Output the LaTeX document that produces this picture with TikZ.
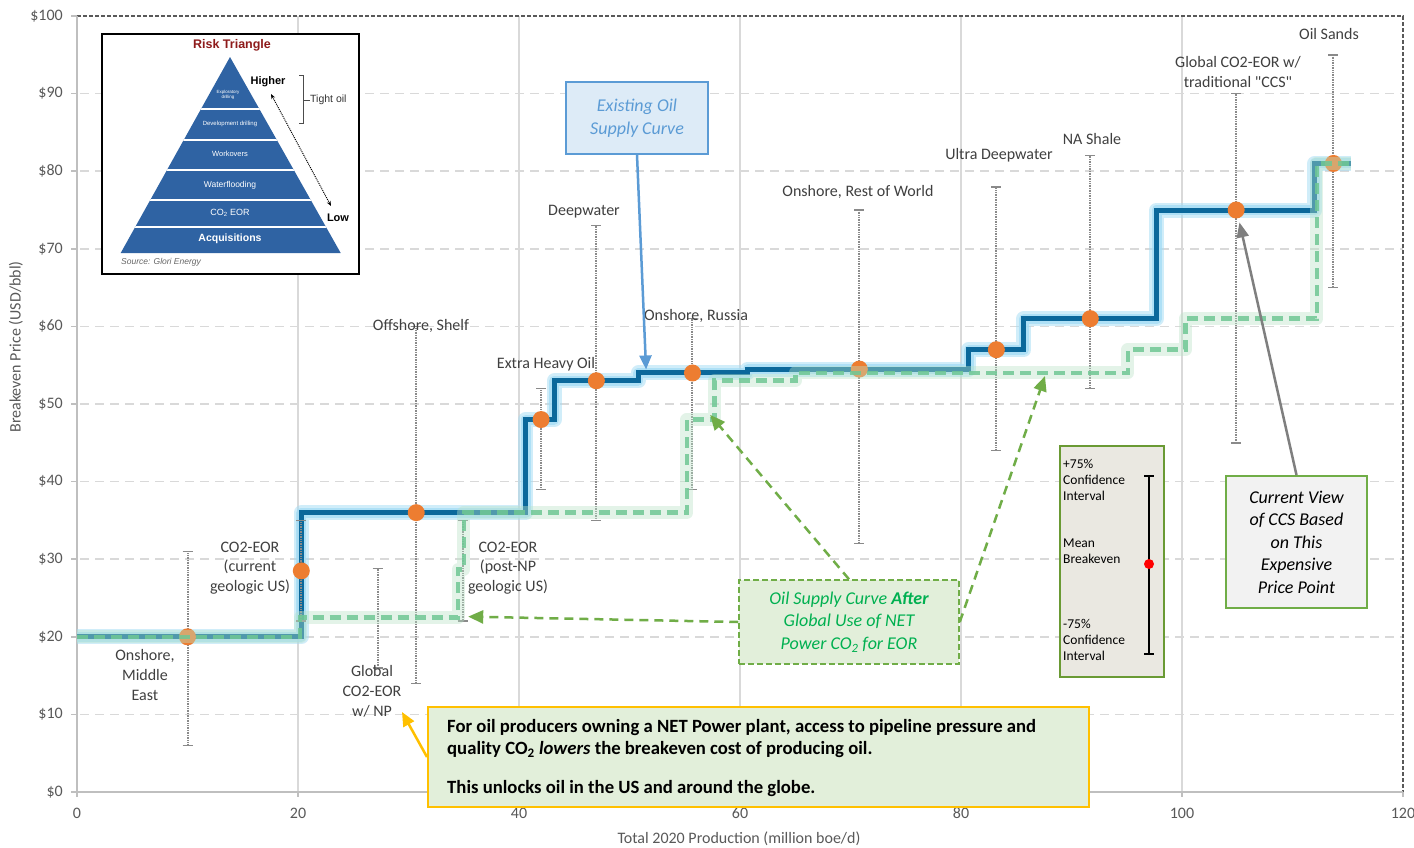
\documentclass[tikz,border=0pt]{standalone}
\usepackage{fontspec}
\setmainfont{Carlito}
\newfontfamily\plainq{Carlito}[Ligatures=TeXOff]
\newfontfamily\arialf{Liberation Sans}
\usetikzlibrary{arrows.meta}
\definecolor{txtgray}{HTML}{404040}
\definecolor{axgray}{HTML}{595959}
\definecolor{axlight}{HTML}{BFBFBF}
\definecolor{gridgray}{HTML}{D9D9D9}
\definecolor{curveblue}{HTML}{0B689B}
\definecolor{glowblue}{HTML}{A3DCF5}
\definecolor{curvegreen}{HTML}{6FC794}
\definecolor{glowgreen}{HTML}{B9E3C7}
\definecolor{dotorange}{HTML}{ED7D31}
\definecolor{boxblue}{HTML}{DDEBF7}
\definecolor{lineblue}{HTML}{5B9BD5}
\definecolor{boxgreen}{HTML}{E2EFDA}
\definecolor{boxolive}{HTML}{70AD47}
\definecolor{textgreen}{HTML}{00B050}
\definecolor{goldc}{HTML}{FFC000}
\definecolor{legbg}{HTML}{EAE8E1}
\definecolor{legborder}{HTML}{6A9A34}
\definecolor{cvbg}{HTML}{F2F2F2}
\definecolor{pyrblue}{HTML}{2F63A3}
\definecolor{darkredc}{HTML}{8E1B1B}
\definecolor{arrowgray}{HTML}{7F7F7F}
\definecolor{ebargray}{HTML}{8A8A8A}
\newcommand\fsz[2]{\fontsize{#1}{#2}\selectfont}
\begin{document}
\begin{tikzpicture}[x=1pt,y=-1pt,
  lbl/.style={text=txtgray, align=center, font=\fsz{16}{19.8}, inner sep=0pt},
  ylab/.style={text=axgray, anchor=east, font=\fsz{16}{19}, inner sep=0pt},
  xlab/.style={text=axgray, font=\fsz{16}{19}, inner sep=0pt},
  axtitle/.style={text=axgray, font=\fsz{16}{19}, inner sep=0pt},
  gridh/.style={draw=gridgray, line width=1.5pt, dash pattern=on 9pt off 6pt},
  gridv/.style={draw=gridgray, line width=1.5pt},
  axisc/.style={draw=axlight, line width=1.5pt},
  framec/.style={draw=axgray, line width=1.3pt, dash pattern=on 4pt off 2pt},
  blueglow/.style={draw=glowblue, line width=15pt, opacity=0.5, line join=round},
  blueglowin/.style={draw=glowblue, line width=10pt, opacity=0.75, line join=round},
  bluecurve/.style={draw=curveblue, line width=5pt, line join=miter},
  greenglow/.style={draw=glowgreen, line width=13pt, opacity=0.4, line join=round},
  greencurve/.style={draw=curvegreen, line width=4.5pt, dash pattern=on 11pt off 6pt, opacity=0.85},
  ebar/.style={draw=ebargray, line width=2pt, dash pattern=on 1pt off 0.7pt},
  ecap/.style={draw=ebargray, line width=1.6pt},
  existbox/.style={draw=lineblue, line width=2pt, fill=boxblue, text=lineblue, font=\itshape\fsz{18}{23}, align=center, minimum width=142pt, minimum height=72pt, inner sep=0pt},
  afterbox/.style={draw=boxolive, line width=1.5pt, dash pattern=on 6pt off 3pt, fill=boxgreen, text=textgreen, font=\itshape\fsz{18}{22.5}, align=center, minimum width=220pt, minimum height=84pt, inner sep=0pt},
  notebox/.style={draw=goldc, line width=2pt, fill=boxgreen, minimum width=661pt, minimum height=100pt, inner sep=0pt},
  notetext/.style={font=\bfseries\fsz{18.7}{22}, align=left, inner sep=0pt, text=black},
  legbox/.style={draw=legborder, line width=2.5pt, fill=legbg, minimum width=104pt, minimum height=231pt, inner sep=0pt},
  legtxt/.style={font=\fsz{13.5}{16}, align=left, inner sep=0pt, text=black, anchor=north west},
  cvbox/.style={draw=boxolive, line width=2pt, fill=cvbg, text=black, font=\itshape\fsz{18}{22.5}, align=center, minimum width=141pt, minimum height=132pt, inner sep=0pt},
  insetbox/.style={draw=black, line width=2pt, fill=white, minimum width=257pt, minimum height=240pt, inner sep=0pt},
  pyrtxt/.style={text=white, font=\arialf, inner sep=0pt, align=center},
  bluearrow/.style={draw=lineblue, line width=2.5pt, -{Triangle[length=14pt,width=12pt]}},
  greenarrow/.style={draw=boxolive, line width=2.5pt, dash pattern=on 9pt off 6pt, -{Triangle[length=15pt,width=13pt]}},
  goldarrow/.style={draw=goldc, line width=2.5pt, -{Triangle[length=14pt,width=12pt]}},
  grayarrow/.style={draw=arrowgray, line width=2.5pt, -{Triangle[length=15pt,width=12pt]}}
]
\useasboundingbox (0,0) rectangle (1414,847);
\fill[white] (0,0) rectangle (1414,847);

% grid
\foreach \k in {1,...,9} \draw[gridh] (80,{792-77.6*\k}) -- (1403,{792-77.6*\k});
\foreach \k in {1,...,5} \draw[gridv] ({77+221*\k},16) -- ({77+221*\k},792);
% frame and axes
\draw[framec] (77,16) -- (1403,16) -- (1403,792);
\draw[axisc] (77,16) -- (77,792) -- (1403,792);
\foreach \k in {0,...,10} \draw[axisc] (71,{792-77.6*\k}) -- (77,{792-77.6*\k});
\foreach \k in {0,...,6} \draw[axisc] ({77+221*\k},792) -- ({77+221*\k},797);
\foreach \k in {0,...,10}{\pgfmathtruncatemacro\val{10*\k}\node[ylab] (ylab\k) at (63,{792-77.6*\k}) {\$\val};}
\foreach \k in {0,...,6}{\pgfmathtruncatemacro\val{20*\k}\node[xlab] (xlab\k) at ({77+221*\k},813) {\val};}
\node[axtitle, rotate=90] (ytitle) at (16,347) {Breakeven Price (USD/bbl)};
\node[axtitle] (xtitle) at (739,839) {Total 2020 Production (million boe/d)};

% data
\begin{scope}[shift={(77pt,-792pt)}, x=11.05pt, y=7.76pt]
  \foreach \gs in {blueglow, blueglowin, bluecurve}
    \draw[\gs] (0,20) -- (20.3,20) -- (20.3,36) -- (40.6,36) -- (40.6,48) -- (43.2,48) -- (43.2,53) -- (50.8,53) -- (50.8,54) -- (60.7,54) -- (60.7,54.5) -- (80.7,54.5) -- (80.7,57) -- (85.7,57) -- (85.7,61) -- (97.7,61) -- (97.7,75) -- (112,75) -- (112,81) -- (115.3,81);
  \foreach \v/\t/\b in {10/31/6, 20.3/35/22, 27.2/28.8/16, 30.7/60/14, 34.9/35/22, 42/52/39, 47/73/35, 55.7/61/39, 70.8/75/32, 83.2/78/44, 91.7/82/52, 104.9/90/45, 113.7/95/65}{
    \draw[ebar] (\v,\t) -- (\v,\b);
    \draw[ecap] ([xshift=-5pt]\v,\t) -- ([xshift=5pt]\v,\t);
    \draw[ecap] ([xshift=-5pt]\v,\b) -- ([xshift=5pt]\v,\b);
  }
  \foreach \v/\p in {10/20, 20.3/28.5, 30.7/36, 42/48, 47/53, 55.7/54, 70.8/54.5, 83.2/57, 91.7/61, 104.9/75, 113.7/81}
    \fill[dotorange] (\v,\p) circle[radius=8.5pt];
  \foreach \gs in {greenglow, greencurve}
    \draw[\gs] (0,20) -- (20.2,20) -- (20.2,22.5) -- (34.5,22.5) -- (34.5,28.7) -- (35,28.7) -- (35,36) -- (55.2,36) -- (55.2,48) -- (57.7,48) -- (57.7,53) -- (65,53) -- (65,54) -- (95.1,54) -- (95.1,57) -- (100.3,57) -- (100.3,61) -- (112.2,61) -- (112.2,81) -- (115.3,81);
  \coordinate (tipBlue) at (51.5,54.45);
  \coordinate (tipL) at (35.4,22.6);
  \coordinate (tipT) at (57.3,48.6);
  \coordinate (tipR) at (87.6,53.6);
  \coordinate (tipG) at (105.2,73.4);
\end{scope}

% data labels
\node[lbl] (lME) at (145,675) {Onshore,\\Middle\\East};
\node[lbl] (lCur) at (250,568) {CO2-EOR\\(current\\geologic US)};
\node[lbl] (lGNP) at (372,691) {Global\\CO2-EOR\\w/ NP};
\node[lbl] (lShelf) at (421,326) {Offshore, Shelf};
\node[lbl] (lPost) at (508,568) {CO2-EOR\\(post-NP\\geologic US)};
\node[lbl] (lXH) at (546,364) {Extra Heavy Oil};
\node[lbl] (lDW) at (584,212) {Deepwater};
\node[lbl] (lRus) at (696,316) {Onshore, Russia};
\node[lbl] (lRoW) at (858,192) {Onshore, Rest of World};
\node[lbl] (lUDW) at (999,155) {Ultra Deepwater};
\node[lbl] (lNA) at (1092,139) {NA Shale};
\node[lbl, font=\plainq\fsz{16}{19.8}] (lCCS) at (1238,72) {Global CO2-EOR w/\\traditional "CCS"};
\node[lbl] (lOS) at (1329,34) {Oil Sands};

% inset risk triangle
\node[insetbox] (inset) at (230.5,154) {};
\fill[pyrblue] (230,57) -- (340.7,253) -- (120.7,253) -- cycle;
\begin{scope}
  \clip (230,57) -- (340.7,253) -- (120.7,253) -- cycle;
  \foreach \yy in {109,140,170,200,227} \draw[white, line width=2pt] (110,\yy) -- (350,\yy);
\end{scope}
\node[text=darkredc, font=\arialf\bfseries\fsz{12.5}{14}, inner sep=0pt] (rtitle) at (232,45) {Risk Triangle};
\node[pyrtxt, font=\arialf\fsz{4.5}{5.5}] (p1) at (228,95) {Exploratory\\drilling};
\node[pyrtxt, font=\arialf\fsz{6}{7}] (p2) at (230,124) {Development drilling};
\node[pyrtxt, font=\arialf\fsz{7.5}{9}] (p3) at (230,154) {Workovers};
\node[pyrtxt, font=\arialf\fsz{8.5}{10}] (p4) at (230,185) {Waterflooding};
\node[pyrtxt, font=\arialf\fsz{9}{10}] (p5) at (230,213) {CO\textsubscript{2} EOR};
\node[pyrtxt, font=\arialf\bfseries\fsz{10.5}{12}] (p6) at (230,239) {Acquisitions};
\node[font=\arialf\bfseries\fsz{11}{13}, inner sep=0pt] (hi) at (268,82) {Higher};
\node[font=\arialf\bfseries\fsz{11}{13}, inner sep=0pt] (lo) at (338,218) {Low};
\draw[black, line width=1pt, densely dotted, {Stealth[length=5pt,width=4pt]}-{Stealth[length=5pt,width=4pt]}] (271,94) -- (331,206);
\draw[black!70, line width=1pt] (299,75) -- (303,75) -- (303,123) -- (299,123);
\draw[black!70, line width=1pt] (303,100) -- (310,100);
\node[anchor=west, font=\arialf\fsz{10.5}{12}, text=black!80, inner sep=0pt] (tight) at (310,100) {Tight oil};
\node[anchor=west, font=\arialf\itshape\fsz{8.5}{10}, text=black!60, inner sep=0pt] (src) at (121,262) {Source: Glori Energy};

% boxes and connectors
\node[existbox] (exist) at (637,118) {Existing Oil\\Supply Curve};
\draw[bluearrow] (exist.south) -- (tipBlue);

\node[afterbox] (after) at (849,622) {Oil Supply Curve \textbf{After}\\Global Use of NET\\Power CO\textsubscript{2} for EOR};
\draw[greenarrow] (after.west) -- (tipL);
\draw[greenarrow] (after.north) -- (tipT);
\draw[greenarrow] (after.east) -- (tipR);

\node[notebox] (note) at (758.5,757) {};
\node[notetext, anchor=west] (notetxt) at (447,758) {For oil producers owning a NET Power plant, access to pipeline pressure and\\quality CO\textsubscript{2} \textit{lowers} the breakeven cost of producing oil.\\[17pt]This unlocks oil in the US and around the globe.};
\coordinate (tipY) at (402,712);
\draw[goldarrow] (note.west) -- (tipY);

\node[legbox] (legend) at (1112,561.5) {};
\node[legtxt] (legp) at (1063,459) {+75\%\\Confidence\\Interval};
\node[legtxt] (legm) at (1063,539) {Mean\\Breakeven};
\node[legtxt] (legn) at (1063,619) {-75\%\\Confidence\\Interval};
\draw[black, line width=1.2pt] (1149,476) -- (1149,654);
\draw[black, line width=1.2pt] (1144,476) -- (1154,476);
\draw[black, line width=1.2pt] (1144,654) -- (1154,654);
\fill[red] (1149,564) circle[radius=5pt];

\node[cvbox] (cv) at (1296.5,542) {Current View\\of CCS Based\\on This\\Expensive\\Price Point};
\draw[grayarrow] (cv.north) -- (tipG);
\end{tikzpicture}
\end{document}
